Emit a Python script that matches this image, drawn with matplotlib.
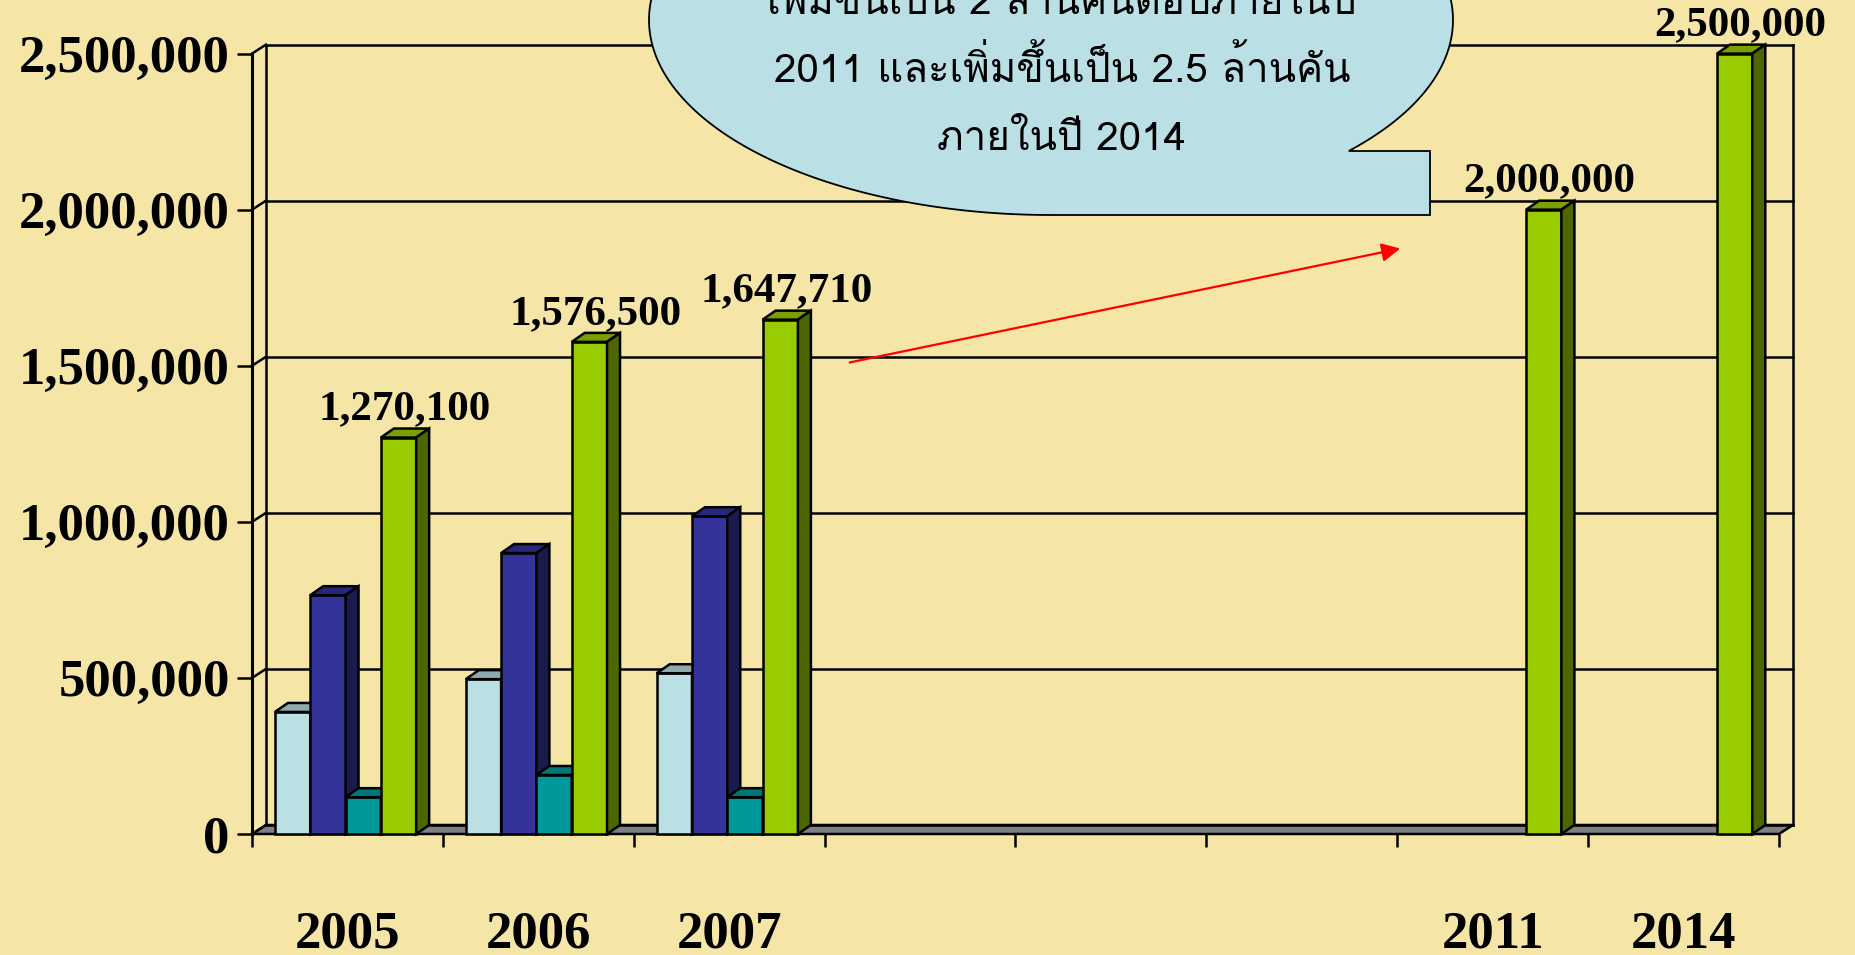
import matplotlib
matplotlib.use('Agg')
import matplotlib.pyplot as plt
import numpy as np
from matplotlib.patches import Polygon, FancyArrowPatch
from matplotlib import font_manager
from matplotlib.ft2font import FT2Font

# ---- data ----
years = ['2005', '2006', '2007', '', '', '', '2011', '2014']
pos_first = [0, 1, 2]            # slots with all four series
pos_green = [0, 1, 2, 6, 7]      # slots with the green series
light_blue = [391000, 496000, 515000]
dark_blue = [765000, 900000, 1018000]
teal = [118000, 189000, 118000]
green = [1270100, 1576500, 1647710, 2000000, 2500000]
yticks = [0, 500000, 1000000, 1500000, 2000000, 2500000]

callout_lines = ['เพิ่มขึ้นเป็น 2 ล้านคนต่อปีภายในปี',
                 '2011 และเพิ่มขึ้นเป็น 2.5 ล้านคัน',
                 'ภายในปี 2014']

BG = '#F5E6A8'
W_PX, H_PX = 1856, 955
LEFT, RIGHT = 252 / W_PX, 1779 / W_PX
BOTTOM, TOP = 1 - 834 / H_PX, 1 - 53.6 / H_PX
NSLOT = len(years)
YMAX = 2500000
LW = 1.8


def thai_family():
    # first installed font that has Thai glyphs
    for fe in font_manager.fontManager.ttflist:
        try:
            if 0x0E01 in FT2Font(fe.fname).get_charmap():
                return fe.name
        except Exception:
            continue
    return 'DejaVu Sans'


fig = plt.figure(figsize=(W_PX / 100, H_PX / 100), dpi=100)
fig.patch.set_facecolor(BG)
ax = fig.add_axes([LEFT, BOTTOM, RIGHT - LEFT, TOP - BOTTOM])
ax.set_facecolor('none')
ax.set_xlim(0, NSLOT)
ax.set_ylim(0, YMAX)

# pixel -> data scale
sx = NSLOT / ((RIGHT - LEFT) * W_PX)
sy = YMAX / ((TOP - BOTTOM) * H_PX)
dxw, dyw = 14 * sx, 9 * sy     # depth of walls
dxb, dyb = 13 * sx, 9 * sy     # depth of bars

# floor
ax.add_patch(Polygon([(0, 0), (NSLOT, 0), (NSLOT + dxw, dyw), (dxw, dyw)],
                     closed=True, fc='#808080', ec='black', lw=LW, zorder=1, clip_on=False))

# back wall gridlines, side wall connectors
for v in yticks:
    ax.plot([0, dxw], [v, v + dyw], color='black', lw=LW, zorder=1.5, clip_on=False)
    ax.plot([dxw, NSLOT + dxw], [v + dyw, v + dyw], color='black', lw=LW, zorder=1.5,
            clip_on=False)
ax.plot([dxw, dxw], [dyw, YMAX + dyw], color='black', lw=LW, zorder=1.5, clip_on=False)
ax.plot([NSLOT + dxw, NSLOT + dxw], [dyw, YMAX + dyw], color='black', lw=LW, zorder=1.5,
        clip_on=False)

# axes: ticks and labels
for s in ['top', 'right', 'bottom']:
    ax.spines[s].set_visible(False)
ax.spines['left'].set_linewidth(LW + 0.4)
ax.spines['left'].set_zorder(2)
ax.set_yticks(yticks)
ax.set_yticklabels([f'{v:,}' for v in yticks], family='Liberation Serif',
                   fontweight='bold', fontsize=38)
ax.tick_params(axis='y', length=11, width=LW, pad=5)
ax.set_xticks(np.arange(NSLOT + 1))
ax.set_xticklabels([])
ax.tick_params(axis='x', which='major', length=9.5, width=LW, direction='out')
ax.set_xticks(np.arange(NSLOT) + 0.5, minor=True)
ax.set_xticklabels(years, minor=True, family='Liberation Serif', fontweight='bold',
                   fontsize=38)
ax.tick_params(axis='x', which='minor', length=0, pad=55)

# bars
bw = 0.185
off = 0.12
series = [
    (light_blue, pos_first, 0, ('#BBE0E3', '#8FAAAD', '#5E7072')),
    (dark_blue, pos_first, 1, ('#333399', '#28287A', '#1A1A4D')),
    (teal, pos_first, 2, ('#009999', '#007777', '#004D4D')),
    (green, pos_green, 3, ('#99CC00', '#7AA000', '#4D6600')),
]
bars = []
for vals, pos, k, cols in series:
    for p, v in zip(pos, vals):
        bars.append((p + off + k * bw, v, cols))
bars.sort(key=lambda b: b[0])

for i, (x0, v, (cf, ct, cs)) in enumerate(bars):
    z = 3 + i * 0.01
    ax.bar(x0, v, width=bw, align='edge', color=cf, edgecolor='black', lw=LW,
           zorder=z, clip_on=False)
    ax.add_patch(Polygon([(x0, v), (x0 + dxb, v + dyb), (x0 + bw + dxb, v + dyb),
                          (x0 + bw, v)], closed=True, fc=ct, ec='black', lw=LW,
                         zorder=z, clip_on=False))
    ax.add_patch(Polygon([(x0 + bw, 0), (x0 + bw, v), (x0 + bw + dxb, v + dyb),
                          (x0 + bw + dxb, dyb)], closed=True, fc=cs, ec='black', lw=LW,
                         zorder=z, clip_on=False))

# value labels on green bars
for p, v in zip(pos_green, green):
    xc = p + off + 3 * bw + bw / 2
    ax.annotate(f'{v:,}', xy=(xc, v), xytext=(6, 18), textcoords='offset pixels',
                ha='center', va='baseline', family='Liberation Serif',
                fontweight='bold', fontsize=31, zorder=6, annotation_clip=False)

# red trend arrow (figure pixels)
def fpx(x, y):
    return (x / W_PX, 1 - y / H_PX)

arrow = FancyArrowPatch(fpx(847, 363), fpx(1403, 248), transform=fig.transFigure,
                        arrowstyle='-|>', mutation_scale=28, color='red', lw=1.6,
                        zorder=7)
fig.patches.append(arrow)

# callout bubble: ellipse with a square tail
cx, cy, a, b = 1051, 20, 402, 195
t_end = 2 * np.pi + np.arcsin((151 - cy) / b)
t = np.linspace(np.pi / 2, t_end, 300)
pts = [fpx(cx + a * np.cos(tt), cy + b * np.sin(tt)) for tt in t]
pts += [fpx(1430, 151), fpx(1430, 215), fpx(cx, 215)]
bubble = Polygon(pts, closed=True, transform=fig.transFigure, fc='#BAE0E5',
                 ec='black', lw=1.3, zorder=8)
fig.patches.append(bubble)

thai = thai_family()
for i, line in enumerate(callout_lines):
    fig.text(1062 / W_PX, 1 - (14 + 68 * i) / H_PX, line, ha='center', va='baseline',
             family=[thai, 'DejaVu Sans'], fontsize=29, zorder=9)

fig.savefig('out.png', dpi=100, facecolor=BG)
